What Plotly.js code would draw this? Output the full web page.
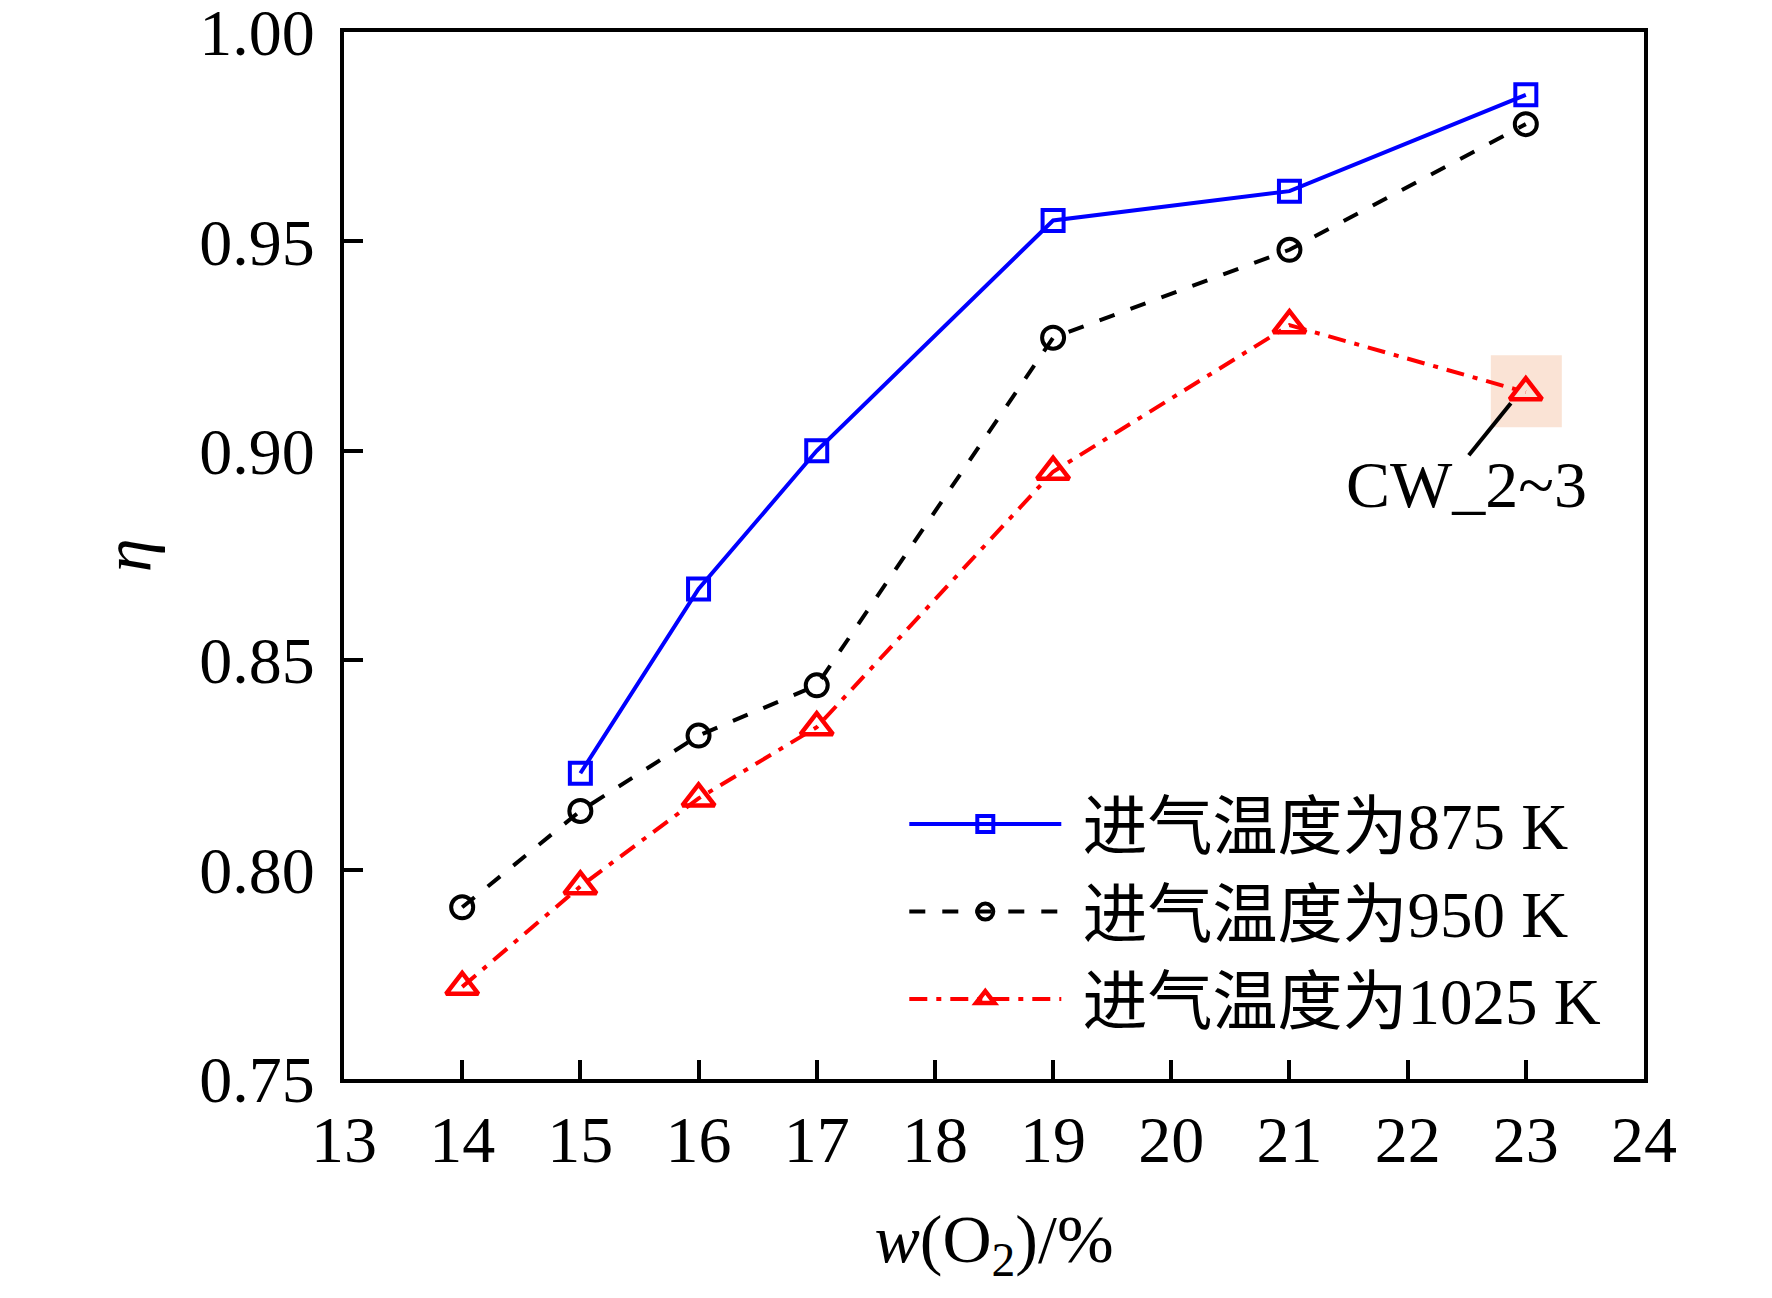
<!DOCTYPE html>
<html>
<head>
<meta charset="utf-8">
<script src="https://cdn.plot.ly/plotly-3.0.1.min.js"></script>
<style>
  html, body { margin: 0; padding: 0; background: #fff; }
  #chart { width: 1772px; height: 1298px; }
</style>
</head>
<body>
<div id="chart"></div>
<script>
// w(O2) in %
var o2_875 = [15, 16, 17, 19, 21, 23];
var eta_875 = [0.823, 0.867, 0.900, 0.955, 0.962, 0.985];

var o2_950 = [14, 15, 16, 17, 19, 21, 23];
var eta_950 = [0.791, 0.814, 0.832, 0.844, 0.927, 0.948, 0.978];

var o2_1025 = [14, 15, 16, 17, 19, 21, 23];
var eta_1025 = [0.772, 0.796, 0.817, 0.834, 0.895, 0.930, 0.914];

var names = ['进气温度为875 K', '进气温度为950 K', '进气温度为1025 K'];
var xTicks = [13, 14, 15, 16, 17, 18, 19, 20, 21, 22, 23, 24];
var yTicks = [0.75, 0.80, 0.85, 0.90, 0.95, 1.00];
var noteLabel = 'CW_2~3';

var FONT = '"Liberation Serif", "Times New Roman", "Noto Sans CJK SC", serif';
var NB = '\u00a0';

var t875 = {
  x: o2_875, y: eta_875, name: NB + names[0],
  type: 'scatter', mode: 'lines+markers',
  line: { color: '#0000ff', width: 4 },
  marker: { symbol: 'square-open', size: 21, color: '#0000ff', line: { width: 4, color: '#0000ff' } }
};
var t950 = {
  x: o2_950, y: eta_950, name: NB + names[1],
  type: 'scatter', mode: 'lines+markers',
  line: { color: '#000000', width: 4, dash: '16px,17px' },
  marker: { symbol: 'circle-open', size: 22, color: '#000000', line: { width: 4, color: '#000000' } }
};
var t1025 = {
  x: o2_1025, y: eta_1025, name: NB + names[2],
  type: 'scatter', mode: 'lines+markers',
  line: { color: '#ff0000', width: 4, dash: '18px,9px,5px,9px' },
  marker: { symbol: 'triangle-up-open', size: 28, color: '#ff0000', line: { width: 4.5, color: '#ff0000' } }
};

// highlighted point: last one of the 1025 K series
var hx = o2_1025[o2_1025.length - 1];
var hy = eta_1025[eta_1025.length - 1];

var axisCommon = {
  showgrid: false, zeroline: false,
  showline: true, linecolor: '#000', linewidth: 4, mirror: true,
  ticks: 'inside', ticklen: 19, tickwidth: 4, tickcolor: '#000',
  ticklabeloverflow: 'allow',
  tickfont: { family: FONT, size: 66, color: '#000' }
};

var layout = {
  width: 1772, height: 1298,
  margin: { l: 344, r: 128, t: 32, b: 219 },
  paper_bgcolor: '#fff', plot_bgcolor: '#fff',
  font: { family: FONT, color: '#000' },
  showlegend: true,
  xaxis: Object.assign({}, axisCommon, {
    range: [13, 24], tickmode: 'array', tickvals: xTicks,
    ticklabelstandoff: 0,
    title: { text: '<i>w</i>(O<sub>2</sub>)/%', font: { family: FONT, size: 68 }, standoff: 40 }
  }),
  yaxis: Object.assign({}, axisCommon, {
    range: [0.75, 1.00], tickmode: 'array', tickvals: yTicks,
    tickformat: '.2f', ticklabelstandoff: 12,
    title: { text: '<i>η</i>', font: { family: FONT, size: 68 }, standoff: 26 }
  }),
  legend: {
    x: 0.431, y: 0.29, xanchor: 'left', yanchor: 'top',
    bgcolor: 'rgba(0,0,0,0)', borderwidth: 0,
    itemwidth: 152, tracegroupgap: 0,
    font: { family: FONT, size: 65, color: '#000' }
  },
  shapes: [
    {
      type: 'rect', layer: 'below',
      xref: 'x', yref: 'y', xsizemode: 'pixel', ysizemode: 'pixel',
      xanchor: hx, yanchor: hy,
      x0: -35, x1: 36, y0: -35, y1: 37,
      fillcolor: '#fae3d5', line: { width: 0 }
    },
    {
      type: 'line',
      xref: 'x', yref: 'y', xsizemode: 'pixel', ysizemode: 'pixel',
      xanchor: hx, yanchor: hy,
      x0: -15, y0: -11, x1: -57, y1: -63,
      line: { color: '#000', width: 4 }
    }
  ],
  annotations: [{
    x: hx, y: hy, xref: 'x', yref: 'y',
    text: noteLabel, showarrow: false,
    xanchor: 'center', yanchor: 'middle',
    xshift: -59, yshift: -92,
    font: { family: FONT, size: 66, color: '#000' }
  }]
};

Plotly.newPlot('chart', [t875, t950, t1025], layout, { staticPlot: true });
</script>
</body>
</html>
